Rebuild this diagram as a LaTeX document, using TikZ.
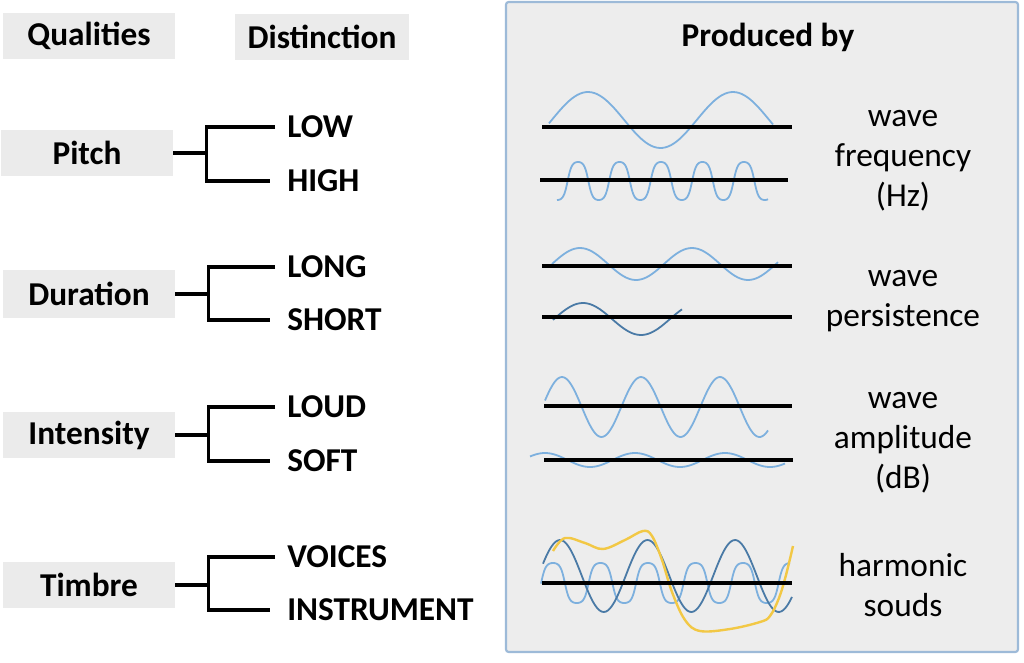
\documentclass[tikz,border=0pt]{standalone}
\usepackage{fontspec}
\setmainfont{Carlito}
\definecolor{boxgray}{HTML}{EBEBEB}
\definecolor{panelgray}{HTML}{EDEDED}
\definecolor{panelblue}{HTML}{9DBAD8}
\definecolor{wlight}{HTML}{7DB0DE}
\definecolor{wdark}{HTML}{4A7AA6}
\definecolor{wyellow}{HTML}{F2C845}
\begin{document}
\begin{tikzpicture}[x=0.75pt,y=-0.75pt,
  txt/.style={font=\fontsize{25}{30}\selectfont},
  hdr/.style={fill=boxgray, minimum width=129pt, minimum height=34pt, inner sep=0pt, font=\fontsize{25}{30}\selectfont\bfseries},
  dist/.style={anchor=west, inner sep=0pt, font=\fontsize{25}{30}\selectfont\bfseries, text height=16pt, text depth=0pt},
  br/.style={line width=2.6pt, black},
  axisline/.style={line width=2.8pt, black},
  lw/.style={draw=wlight, line width=1.35pt},
  dw/.style={draw=wdark, line width=1.35pt},
  yw/.style={draw=wyellow, line width=1.8pt},
  rlab/.style={align=center, inner sep=0pt, font=\fontsize{25}{30}\selectfont}
]
\useasboundingbox (0,0) rectangle (1024,663);
\fill[white] (0,0) rectangle (1024,663);

% headers
\node[hdr] (qh) at (89,36) {Qualities};
\node[hdr, minimum width=130pt, minimum height=35pt] (dh) at (322,37) {Distinction};

% qualities
\node[hdr] (pitch) at (87,153) {Pitch};
\node[hdr, minimum height=36pt] (duration) at (89,294) {Duration};
\node[hdr] (intensity) at (89,435) {Intensity};
\node[hdr] (timbre) at (89,585) {Timbre};

% distinctions
\node[dist] (low) at (287,127) {LOW};
\node[dist] (high) at (287,181) {HIGH};
\node[dist] (long) at (287,267) {LONG};
\node[dist] (short) at (287,320) {SHORT};
\node[dist] (loud) at (287,407) {LOUD};
\node[dist] (soft) at (287,461) {SOFT};
\node[dist] (voices) at (287,557) {VOICES};
\node[dist] (instr) at (287,610) {INSTRUMENT};

% brackets
\foreach \q/\a/\b in {pitch/low/high, duration/long/short, intensity/loud/soft, timbre/voices/instr}{
  \draw[br] (\q.east) -- ++(33,0) coordinate (\q-j);
  \draw[br] ([xshift=-9pt]\a.west) -| (\q-j) |- ([xshift=-12.5pt]\b.west);
}

% panel
\draw[draw=panelblue, fill=panelgray, line width=1.6pt, rounded corners=2pt] (506,2) rectangle (1018,652);
\node[txt, font=\fontsize{25}{30}\selectfont\bfseries] (prod) at (768,37) {Produced by};

% --- frequency
\draw[lw] plot[domain=549:773, samples=80, smooth] (\x, {120-28*cos((\x-588)/145*360)});
\draw[lw] plot[domain=557:768, samples=200, smooth] (\x, {181-19*tanh(1.5*cos((\x-578)/41.5*360))/tanh(1.5)});
\draw[axisline] (542,127) -- (792,127);
\draw[axisline] (540,180) -- (788,180);
\node[rlab] (freq) at (903,161) {wave\\frequency\\(Hz)};

% --- persistence
\draw[lw] plot[domain=552:778, samples=80, smooth] (\x, {264-16*cos((\x-580)/112*360)});
\draw[dw] plot[domain=553:682, samples=50, smooth] (\x, {319-16*cos((\x-583)/116*360)});
\draw[axisline] (542,266) -- (792,266);
\draw[axisline] (542,317) -- (792,317);
\node[rlab] (pers) at (903,301) {wave\\persistence};

% --- amplitude
\draw[lw] plot[domain=545:768, samples=120, smooth] (\x, {407-30*cos((\x-562)/79*360)});
\draw[lw] plot[domain=530:785, samples=120, smooth] (\x, {460-7*cos((\x-545)/90*360)});
\draw[axisline] (544,406) -- (792,406);
\draw[axisline] (544,460) -- (793,460);
\node[rlab] (ampl) at (903,443) {wave\\amplitude\\(dB)};

% --- harmonic
\draw[lw] plot[domain=541:790, samples=220, smooth] (\x, {583-20*tanh(1.6*cos((\x-553)/47.5*360))/tanh(1.6)});
\draw[dw] plot[domain=543:792, samples=120, smooth] (\x, {576-36*cos((\x-560)/87.5*360)});
\draw[yw] plot[smooth, tension=0.6] coordinates {(553,551) (565,538) (585,543) (603,549) (625,540) (643,531) (652,536) (662,560) (672,592) (685,620) (700,631) (730,629) (760,622) (770,616) (779,598) (786,575) (793,546)};
\draw[axisline] (542,583) -- (792,583);
\node[rlab] (harm) at (903,585) {harmonic\\souds};
\end{tikzpicture}
\end{document}
